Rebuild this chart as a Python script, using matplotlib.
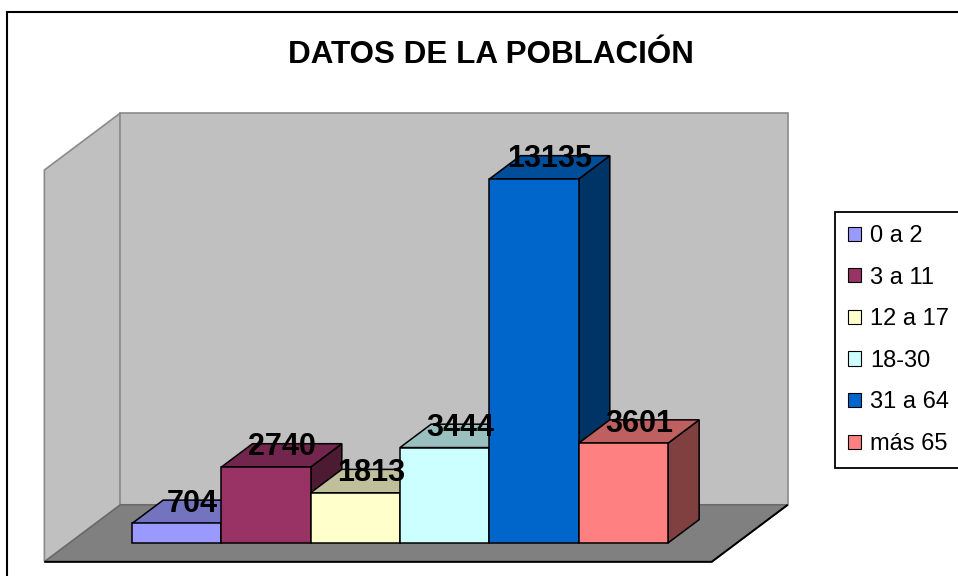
"""Excel-style 3D column chart: DATOS DE LA POBLACIÓN (population by age band)."""
import matplotlib

matplotlib.use("Agg")
import matplotlib.pyplot as plt
from matplotlib.colors import to_rgb
from matplotlib.patches import Patch, Polygon, Rectangle

TITLE = "DATOS DE LA POBLACIÓN"
GROUPS = ["0 a 2", "3 a 11", "12 a 17", "18-30", "31 a 64", "más 65"]
VALUES = [704, 2740, 1813, 3444, 13135, 3601]
COLORS = ["#9999FF", "#993366", "#FFFFCC", "#CCFFFF", "#0066CC", "#FF8080"]

# oblique projection: depth t runs 0 (floor front) .. 1 (back wall)
DX, DY = 0.851, 2057.0       # full-depth offset in (category, value) units
T0, T1 = 0.33, 0.74          # front / back plane of the columns
WALL_TOP = 14140             # value reached by the walls
C0, C1 = -0.70, 6.77         # floor extent along the category axis


def proj(c, v, t):
    return c + DX * (t - T0), v + DY * (t - T0)


def shade(color, k):
    return tuple(k * x for x in to_rgb(color))


def main() -> None:
    fig = plt.figure(figsize=(9.58, 5.76), dpi=100)
    ax = fig.add_axes([0, 0, 1, 1])
    ax.set_xlim(-1.4777, 9.2466)
    ax.set_ylim(-1191, 19596)
    ax.axis("off")

    # walls and floor
    side = [proj(C0, 0, 0), proj(C0, 0, 1), proj(C0, WALL_TOP, 1),
            proj(C0, WALL_TOP, 0)]
    back = [proj(C0, 0, 1), proj(C1, 0, 1), proj(C1, WALL_TOP, 1),
            proj(C0, WALL_TOP, 1)]
    floor = [proj(C0, 0, 0), proj(C1, 0, 0), proj(C1, 0, 1), proj(C0, 0, 1)]
    ax.add_patch(Polygon(side, fc="#C0C0C0", ec="#8A8A8A", lw=1.2))
    ax.add_patch(Polygon(back, fc="#C0C0C0", ec="#8A8A8A", lw=1.2))
    ax.add_patch(Polygon(floor, fc="#808080", ec="#6A6A6A", lw=1.2))
    fx = [floor[0][0], floor[1][0], floor[2][0]]
    fy = [floor[0][1], floor[1][1], floor[2][1]]
    ax.plot(fx, fy, color="black", lw=1.4, solid_capstyle="butt")

    # columns, painted left to right
    for i, (v, c) in enumerate(zip(VALUES, COLORS)):
        rside = [proj(i + 1, 0, T0), proj(i + 1, 0, T1),
                 proj(i + 1, v, T1), proj(i + 1, v, T0)]
        top = [proj(i, v, T0), proj(i + 1, v, T0),
               proj(i + 1, v, T1), proj(i, v, T1)]
        front = [proj(i, 0, T0), proj(i + 1, 0, T0),
                 proj(i + 1, v, T0), proj(i, v, T0)]
        ax.add_patch(Polygon(rside, fc=shade(c, 0.5), ec="black", lw=1.1))
        ax.add_patch(Polygon(top, fc=shade(c, 0.75), ec="black", lw=1.1))
        ax.add_patch(Polygon(front, fc=c, ec="black", lw=1.1))

    tm = (T0 + T1) / 2
    for i, v in enumerate(VALUES):
        x, y = proj(i + 0.5, v, tm)
        ax.text(x, y, str(v), ha="center", va="baseline", fontsize=22,
                fontweight="bold", family="Liberation Sans")

    fig.text(490.5 / 958, 1 - 63 / 576, TITLE, ha="center", va="baseline",
             fontsize=22.6, fontweight="bold", family="Liberation Sans")

    handles = [Patch(fc=c, ec="black", lw=0.8) for c in COLORS]
    leg = fig.legend(handles, GROUPS, loc="upper left",
                     bbox_to_anchor=(835 / 958, 1 - 212 / 576),
                     bbox_transform=fig.transFigure, borderaxespad=0,
                     prop={"family": "Liberation Sans", "size": 17},
                     handlelength=0.55, handleheight=0.55,
                     handletextpad=0.38, labelspacing=0.83, borderpad=0.55,
                     fancybox=False, framealpha=1)
    leg.get_frame().set_edgecolor("black")
    leg.get_frame().set_linewidth(1.3)

    fig.patches.append(Rectangle((7 / 958, -0.05), 1.1, 1 - 12 / 576 + 0.05,
                                 transform=fig.transFigure, fill=False,
                                 ec="black", lw=1.5))
    fig.savefig("out.png", dpi=100)
    plt.close(fig)


if __name__ == "__main__":
    main()
